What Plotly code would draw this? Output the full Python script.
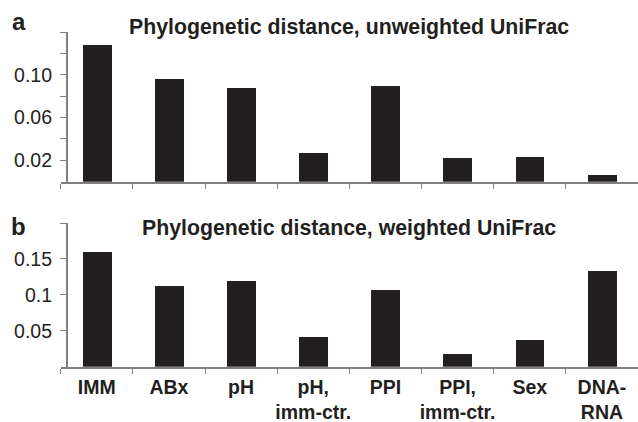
import plotly.graph_objects as go

categories = ["IMM", "ABx", "pH", "pH,<br>imm-ctr.", "PPI", "PPI,<br>imm-ctr.", "Sex", "DNA-<br>RNA"]
unweighted = [0.128, 0.096, 0.0876, 0.0268, 0.0894, 0.022, 0.023, 0.0063]
weighted = [0.160, 0.112, 0.119, 0.0407, 0.1067, 0.0178, 0.0375, 0.1334]

top_tickvals = [0.02, 0.04, 0.06, 0.08, 0.10, 0.12, 0.14]
top_ticktext = ["0.02", "", "0.06", "", "0.10", "", ""]
bot_tickvals = [0.05, 0.10, 0.15, 0.20]
bot_ticktext = ["0.05", "0.1", "0.15", ""]

W, H = 638, 422
BAR = "#231f20"
AX = "#808080"
TXT = "#231f20"
FONT = "Liberation Sans, Arial, sans-serif"

def py(p):
    return 1 - p / H

x0 = 60.7 / W
yax_pos = 66.7 / W

fig = go.Figure()
fig.add_trace(go.Bar(x=categories, y=unweighted, marker=dict(color=BAR, line=dict(width=0)),
                     width=0.4, xaxis="x", yaxis="y", showlegend=False))
fig.add_trace(go.Bar(x=categories, y=weighted, marker=dict(color=BAR, line=dict(width=0)),
                     width=0.4, xaxis="x2", yaxis="y2", showlegend=False))

common_x = dict(type="category", range=[-0.5, 7.5], showline=True, linecolor=AX, linewidth=2,
                ticks="outside", tickson="boundaries", ticklen=5, tickcolor=AX, tickwidth=1.2,
                showgrid=False, zeroline=False, fixedrange=True, tickangle=0, automargin=False,
                ticklabelstandoff=2,
                tickfont=dict(family=FONT, size=19.5, color=TXT, weight="bold"))
common_y = dict(showline=True, linecolor=AX, linewidth=1.5, ticks="outside", ticklen=6,
                tickcolor=AX, tickwidth=1.2, showgrid=False, zeroline=False, automargin=False,
                anchor="free", position=yax_pos, ticklabelstandoff=4,
                tickfont=dict(family=FONT, size=19.5, color=TXT))

fig.update_layout(
    width=W, height=H, margin=dict(l=0, r=0, t=0, b=0),
    paper_bgcolor="white", plot_bgcolor="white", bargap=0,
    xaxis=dict(domain=[x0, 1], anchor="y", showticklabels=False, **common_x),
    yaxis=dict(domain=[py(181.7), py(32)], range=[0, 0.14], tickvals=top_tickvals,
               ticktext=top_ticktext, **common_y),
    xaxis2=dict(domain=[x0, 1], anchor="y2", **common_x),
    yaxis2=dict(domain=[py(366.7), py(223)], range=[0, 0.2], tickvals=bot_tickvals,
                ticktext=bot_ticktext, **common_y),
)

anns = [
    dict(text="<b>Phylogenetic distance, unweighted UniFrac</b>", x=348.5 / W, y=py(27)),
    dict(text="<b>Phylogenetic distance, weighted UniFrac</b>", x=348.5 / W, y=py(228)),
]
for a in anns:
    fig.add_annotation(xref="paper", yref="paper", showarrow=False, xanchor="center",
                       yanchor="middle", font=dict(family=FONT, size=21.3, color=TXT), **a)
fig.add_annotation(text="<b>a</b>", xref="paper", yref="paper", x=18.5 / W, y=py(22),
                   showarrow=False, xanchor="center", yanchor="middle",
                   font=dict(family=FONT, size=24, color=TXT))
fig.add_annotation(text="<b>b</b>", xref="paper", yref="paper", x=18.5 / W, y=py(226),
                   showarrow=False, xanchor="center", yanchor="middle",
                   font=dict(family=FONT, size=24, color=TXT))

fig.write_html("out.html")
